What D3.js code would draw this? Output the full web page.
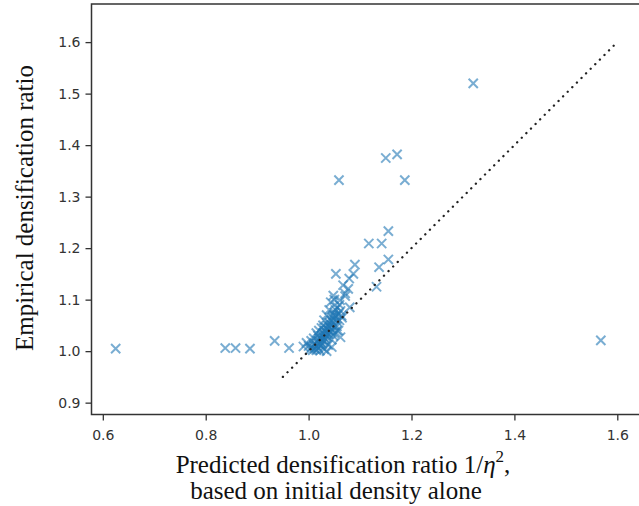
<!DOCTYPE html>
<html>
<head>
<meta charset="utf-8">
<script src="https://cdn.jsdelivr.net/npm/d3@7"></script>
<style>
  body { margin: 0; background: #fff; }
  svg { display: block; }
  .tick text { font-family: 'DejaVu Sans', sans-serif; font-size: 14px; fill: #333; }
  .tick line { stroke: #333; stroke-width: 1.3; }
  .axis-label { font-family: 'Liberation Serif', serif; font-size: 25px; fill: #111; }
</style>
</head>
<body>
<svg id="chart" width="639" height="506"></svg>
<script>
const xTicks = [0.6, 0.8, 1.0, 1.2, 1.4, 1.6];
const yTicks = [0.9, 1.0, 1.1, 1.2, 1.3, 1.4, 1.5, 1.6];
const xDomain = [0.578, 1.649];
const yDomain = [0.877, 1.674];

// points far from the main cluster
const lowPoints = [
  [0.625, 1.005], [0.838, 1.006], [0.858, 1.006], [0.886, 1.005],
  [0.934, 1.020], [0.962, 1.006], [0.990, 1.009], [0.996, 1.016],
  [1.568, 1.021], [1.320, 1.520],
];

const upperPoints = [
  [1.059, 1.332], [1.150, 1.375], [1.172, 1.382], [1.187, 1.332],
  [1.155, 1.233], [1.117, 1.209], [1.142, 1.209], [1.155, 1.178],
  [1.137, 1.163], [1.090, 1.168], [1.087, 1.150], [1.053, 1.150],
  [1.132, 1.125], [1.079, 1.141], [1.067, 1.128], [1.077, 1.121],
  [1.048, 1.108], [1.071, 1.107], [1.061, 1.099], [1.080, 1.085],
  [1.071, 1.112], [1.064, 1.069], [1.062, 1.027], [1.055, 1.040],
  [1.048, 1.030],
];

const clusterPoints = [
  [1.003, 1.003], [1.006, 1.008], [1.008, 1.002], [1.010, 1.012],
  [1.012, 1.005], [1.013, 1.015], [1.015, 1.002], [1.016, 1.010],
  [1.018, 1.020], [1.019, 1.006], [1.020, 1.014], [1.021, 1.025],
  [1.022, 1.001], [1.023, 1.018], [1.024, 1.010], [1.025, 1.030],
  [1.026, 1.022], [1.027, 1.014], [1.028, 1.035], [1.029, 1.027],
  [1.030, 1.019], [1.031, 1.040], [1.032, 1.032], [1.033, 1.024],
  [1.034, 1.045], [1.035, 1.036], [1.036, 1.028], [1.037, 1.050],
  [1.038, 1.042], [1.039, 1.033], [1.040, 1.055], [1.041, 1.047],
  [1.042, 1.038], [1.043, 1.060], [1.044, 1.051], [1.045, 1.043],
  [1.046, 1.066], [1.047, 1.056], [1.048, 1.070], [1.049, 1.062],
  [1.050, 1.075], [1.051, 1.048], [1.052, 1.080], [1.053, 1.068],
  [1.055, 1.058], [1.056, 1.085], [1.058, 1.072], [1.060, 1.090],
  [1.062, 1.078],
  [1.000, 1.010], [1.005, 1.020], [1.010, 1.025], [1.015, 1.035],
  [1.020, 1.040], [1.028, 1.050], [1.030, 1.060], [1.035, 1.070],
  [1.040, 1.080], [1.030, 1.004], [1.038, 1.012], [1.045, 1.022],
  [1.050, 1.035], [1.055, 1.048], [1.060, 1.060], [1.065, 1.065],
  [1.058, 1.040], [1.045, 1.008], [1.035, 1.000], [1.043, 1.095],
  [1.050, 1.100], [1.025, 1.045], [1.018, 1.030],
];

const parityLine = [[0.95, 0.95], [1.6, 1.6]];

const margin = { top: 4, left: 91.5 };
const width = 551;
const height = 410.5;

const svg = d3.select('#chart');
const g = svg.append('g')
  .attr('transform', `translate(${margin.left},${margin.top})`);

const x = d3.scaleLinear().domain(xDomain).range([0, width]);
const y = d3.scaleLinear().domain(yDomain).range([height, 0]);

const xAxis = g.append('g')
  .attr('transform', `translate(0,${height})`)
  .call(d3.axisBottom(x)
    .tickValues(xTicks)
    .tickFormat(d3.format('.1f'))
    .tickSize(6)
    .tickSizeOuter(0)
    .tickPadding(10));
xAxis.select('.domain').remove();

const yAxis = g.append('g')
  .call(d3.axisLeft(y)
    .tickValues(yTicks)
    .tickFormat(d3.format('.1f'))
    .tickSize(6)
    .tickSizeOuter(0)
    .tickPadding(5));
yAxis.select('.domain').remove();

// frame (right spine falls just outside the picture)
g.append('rect')
  .attr('width', width)
  .attr('height', height)
  .attr('fill', 'none')
  .attr('stroke', '#333')
  .attr('stroke-width', 1.5);

const cross = 'M-4.6,-4.6L4.6,4.6M-4.6,4.6L4.6,-4.6';
const allPoints = [...lowPoints, ...upperPoints, ...clusterPoints];

g.append('g')
  .selectAll('path')
  .data(allPoints)
  .join('path')
  .attr('d', cross)
  .attr('transform', (d) => `translate(${x(d[0])},${y(d[1])})`)
  .attr('fill', 'none')
  .attr('stroke', '#1f77b4')
  .attr('stroke-opacity', 0.6)
  .attr('stroke-width', 2);

g.append('path')
  .datum(parityLine)
  .attr('d', d3.line().x((d) => x(d[0])).y((d) => y(d[1])))
  .attr('fill', 'none')
  .attr('stroke', '#222')
  .attr('stroke-width', 2.3)
  .attr('stroke-linecap', 'round')
  .attr('stroke-dasharray', '0.1,6.4');

// axis labels
svg.append('text')
  .attr('class', 'axis-label')
  .attr('transform', 'translate(33,208) rotate(-90)')
  .attr('text-anchor', 'middle')
  .text('Empirical densification ratio');

const xLabel = svg.append('text')
  .attr('class', 'axis-label')
  .attr('x', 343)
  .attr('y', 473)
  .attr('text-anchor', 'middle');
xLabel.append('tspan').text('Predicted densification ratio 1/');
xLabel.append('tspan').attr('font-style', 'italic').text('η');
xLabel.append('tspan').attr('dy', -11).attr('font-size', 17).text('2');
xLabel.append('tspan').attr('dy', 11).text(',');

svg.append('text')
  .attr('class', 'axis-label')
  .attr('x', 336)
  .attr('y', 499)
  .attr('text-anchor', 'middle')
  .text('based on initial density alone');
</script>
</body>
</html>
